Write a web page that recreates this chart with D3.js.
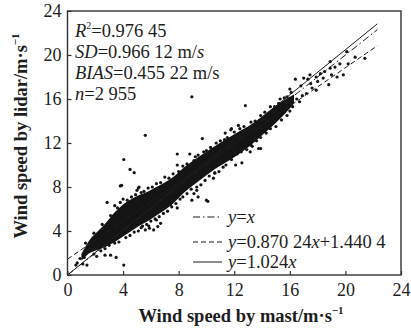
<!DOCTYPE html>
<html>
<head>
<meta charset="utf-8">
<script src="https://cdn.jsdelivr.net/npm/d3@7/dist/d3.min.js"></script>
<style>
body { margin: 0; background: #fff; }
text { font-family: "Liberation Serif", "Times New Roman", serif; fill: #1e1e1e; }
</style>
</head>
<body>
<script>
var width = 411
var height = 329

// black core of the cloud: upper and lower edge
var bandX  = [1.0, 1.6, 2.2, 2.8, 3.4, 4.0, 4.6, 5.2, 5.8, 6.4, 7.0, 7.6, 8.4, 9.5, 10.7, 12.0, 13.1, 14.0, 14.8, 15.6, 16.3]
var bandHi = [1.9, 3.2, 4.0, 4.8, 5.7, 6.4, 6.9, 7.3, 7.6, 8.0, 8.4, 8.9, 9.8, 10.8, 11.8, 12.8, 13.6, 14.4, 15.2, 15.9, 16.4]
var bandLo = [1.3, 2.0, 2.3, 2.6, 3.0, 3.5, 4.0, 4.5, 4.9, 5.4, 5.9, 6.5, 7.5, 8.6, 9.7, 10.7, 11.7, 12.7, 13.6, 14.6, 15.6]

// single dots (outliers, ragged edges of the band, sparse top end)
var dotX = [5.6, 4.05, 4.5, 4.8, 3.9, 2.85, 4.0, 5.1, 7.9, 8.8, 9.2, 9.7, 10.1, 9.1, 9.3, 7.9, 7.4, 6.4, 5.85, 4.05,
            2.7, 3.1, 3.5, 2.1, 0.7, 1.1, 1.4, 12.55, 13.3, 11.35, 11.75, 11.8, 12.3, 10.6, 12.8, 7.9, 12.1, 13.15, 13.75, 13.9,
            10.0, 9.4, 8.95, 10.5, 8.95, 3.8, 5.15, 5.6, 5.9, 6.5, 6.7, 5.4, 6.2,
            16.4, 17.0, 17.45, 17.9, 18.8, 19.4, 19.85, 20.2, 20.7, 21.4, 20.1, 18.9, 19.25, 19.6, 18.5, 18.9, 17.2, 17.9, 16.7, 15.5, 15.05,
            16.0, 16.2, 16.8, 17.5, 18.0, 18.2, 17.6, 16.9, 18.4, 17.3, 19.0, 15.8, 16.5, 15.2,
            1.3, 1.9, 2.5, 3.1, 3.6, 4.3, 4.9, 5.5, 6.1, 6.7, 7.3, 8.0, 8.6, 9.1, 9.8, 10.3, 11.0, 11.5, 12.4, 13.5, 14.2, 14.6, 15.3, 7.0, 5.0, 3.4,
            1.9, 2.4, 3.0, 3.7, 4.2, 4.8, 5.3, 6.0, 6.6, 7.2, 7.8, 8.3, 8.9, 9.6, 10.2, 10.9, 11.4, 12.2, 12.9, 13.6, 14.3, 15.0, 15.8,
            0.9, 1.2, 0.6,
            3.8, 4.6, 5.3, 5.8, 6.4, 7.6, 8.3, 9.4, 10.0, 10.7, 11.3, 12.0, 12.7, 13.2, 13.9, 14.9, 15.6, 16.1,
            2.7, 3.4, 4.5, 5.1, 5.7, 6.3, 6.9, 7.5, 8.1, 8.6, 9.3, 9.9, 10.6, 11.2, 11.8, 12.5, 13.2, 13.9, 14.6, 15.4, 16.0]
var dotY = [12.7, 10.5, 9.6, 9.3, 8.15, 6.6, 6.9, 7.9, 11.0, 11.0, 10.75, 12.4, 6.7, 7.4, 7.7, 6.1, 6.4, 5.0, 4.45, 0.9,
            1.8, 1.8, 1.6, 1.7, 1.1, 1.0, 0.9, 10.2, 11.7, 12.9, 13.2, 13.3, 13.6, 9.25, 15.4, 10.0, 10.0, 11.2, 11.5, 11.5,
            6.8, 7.1, 6.8, 8.8, 16.2, 8.1, 8.0, 4.1, 4.25, 4.4, 4.7, 4.45, 4.1,
            17.8, 17.9, 18.2, 18.0, 17.3, 18.0, 18.2, 19.2, 19.8, 19.7, 20.3, 18.8, 18.9, 19.2, 18.5, 19.4, 16.5, 16.8, 15.75, 15.45, 14.7,
            16.9, 15.3, 17.2, 17.4, 17.6, 18.3, 17.0, 16.3, 17.9, 17.8, 18.2, 16.2, 16.0, 15.6,
            2.9, 3.8, 4.6, 5.4, 6.1, 6.8, 7.3, 7.6, 8.0, 8.4, 8.8, 9.4, 10.1, 10.4, 11.2, 11.6, 12.2, 12.5, 13.3, 14.0, 14.8, 15.3, 16.0, 8.9, 7.7, 6.3,
            1.9, 2.2, 2.7, 3.0, 3.4, 3.9, 4.3, 4.9, 5.3, 5.8, 6.5, 7.1, 7.8, 8.2, 9.0, 9.4, 10.0, 11.0, 11.4, 12.2, 12.9, 13.5, 14.5,
            1.5, 1.6, 0.9,
            6.6, 7.1, 7.5, 7.9, 8.3, 9.2, 9.9, 10.9, 11.3, 12.0, 12.3, 13.0, 13.5, 13.9, 14.5, 15.3, 16.1, 16.6,
            2.4, 2.9, 3.6, 4.0, 4.6, 5.1, 5.6, 6.2, 6.9, 7.4, 8.0, 8.6, 9.3, 9.8, 10.5, 11.2, 11.8, 12.5, 13.3, 14.1, 14.9]

var xTicks = [0, 4, 8, 12, 16, 20, 24]
var yTicks = [0, 4, 8, 12, 16, 20, 24]

// reference / fitted lines
var fitSlope = [1, 0.87024, 1.024]
var fitIntercept = [0, 1.4404, 0]
var fitDash = ["7,3,1.5,3", "5,3", null]
var fitEnd = 22.3

var svg = d3.select("body")
    .append("svg")
    .attr("width", width)
    .attr("height", height);

var x_scale = d3.scaleLinear().domain([0, 24]).range([67.5, 401])
var y_scale = d3.scaleLinear().domain([0, 24]).range([275, 11])

// band
var area = d3.area()
    .x((i) => x_scale(bandX[i]))
    .y0((i) => y_scale(bandLo[i]))
    .y1((i) => y_scale(bandHi[i]))
    .curve(d3.curveCatmullRom)

svg.append("path")
    .datum(d3.range(bandX.length))
    .attr("d", area)
    .attr("fill", "#141414")

svg.selectAll("circle.dot")
    .data(d3.range(dotX.length))
    .enter()
    .append("circle")
    .attr("class", "dot")
    .attr("cx", (i) => x_scale(dotX[i]))
    .attr("cy", (i) => y_scale(dotY[i]))
    .attr("r", 1.6)
    .style("fill", "#141414")

// lines
fitSlope.forEach(function (s, k) {
    svg.append("line")
        .attr("x1", x_scale(0))
        .attr("y1", y_scale(fitIntercept[k]))
        .attr("x2", x_scale(fitEnd))
        .attr("y2", y_scale(s * fitEnd + fitIntercept[k]))
        .attr("stroke", "#1e1e1e")
        .attr("stroke-width", 1)
        .attr("stroke-dasharray", fitDash[k])
})

// axes, ticks inward
var xAxis = svg.append("g")
    .attr("transform", "translate(0,275)")
    .call(d3.axisBottom(x_scale).tickValues(xTicks).tickSize(-4).tickPadding(8))
var yAxis = svg.append("g")
    .attr("transform", "translate(67.5,0)")
    .call(d3.axisLeft(y_scale).tickValues(yTicks).tickSize(-4).tickPadding(6))

;[xAxis, yAxis].forEach(function (g) {
    g.select(".domain").remove()
    g.selectAll("line").attr("stroke", "#333").attr("stroke-width", 1.2)
    g.selectAll("text")
        .attr("font-family", "Liberation Serif")
        .attr("font-size", 18)
        .attr("fill", "#1e1e1e")
})

svg.append("rect")
    .attr("x", 67.5).attr("y", 11)
    .attr("width", 401 - 67.5).attr("height", 275 - 11)
    .attr("fill", "none")
    .attr("stroke", "#333")
    .attr("stroke-width", 1.4)

// axis titles
var xt = svg.append("text")
    .attr("x", 241).attr("y", 322)
    .attr("text-anchor", "middle")
    .attr("font-size", 18.5).attr("font-weight", "bold")
xt.append("tspan").text("Wind speed by mast/m·s")
xt.append("tspan").attr("dy", -8).attr("font-size", 11).text("−1")

var yt = svg.append("text")
    .attr("transform", "translate(27,136) rotate(-90)")
    .attr("text-anchor", "middle")
    .attr("font-size", 18.5).attr("font-weight", "bold")
yt.append("tspan").text("Wind speed by lidar/m·s")
yt.append("tspan").attr("dy", -8).attr("font-size", 11).text("−1")

// statistics
var stats = svg.append("g").attr("font-size", 18.5)
var t1 = stats.append("text").attr("x", 75).attr("y", 37)
t1.append("tspan").attr("font-style", "italic").text("R")
t1.append("tspan").attr("dy", -8).attr("font-size", 10).text("2")
t1.append("tspan").attr("dy", 8).text("=0.976 45")
var t2 = stats.append("text").attr("x", 75).attr("y", 58)
t2.append("tspan").attr("font-style", "italic").text("SD")
t2.append("tspan").text("=0.966 12 m/")
t2.append("tspan").attr("font-style", "italic").text("s")
var t3 = stats.append("text").attr("x", 75).attr("y", 79)
t3.append("tspan").attr("font-style", "italic").text("BIAS")
t3.append("tspan").text("=0.455 22 m/s")
var t4 = stats.append("text").attr("x", 75).attr("y", 100)
t4.append("tspan").attr("font-style", "italic").text("n")
t4.append("tspan").text("=2 955")

// legend
var legY = [217, 242, 262]
var legParts = [
    [["y", true], ["=", false], ["x", true]],
    [["y", true], ["=0.870 24", false], ["x", true], ["+1.440 4", false]],
    [["y", true], ["=1.024", false], ["x", true]]
]
legY.forEach(function (ly, k) {
    svg.append("line")
        .attr("x1", 193).attr("x2", 222)
        .attr("y1", ly).attr("y2", ly)
        .attr("stroke", "#1e1e1e")
        .attr("stroke-width", 1)
        .attr("stroke-dasharray", fitDash[k])
    var t = svg.append("text").attr("x", 228).attr("y", ly + 5.5).attr("font-size", 18.5)
    legParts[k].forEach(function (p) {
        t.append("tspan").attr("font-style", p[1] ? "italic" : "normal").text(p[0])
    })
})
</script>
</body>
</html>
